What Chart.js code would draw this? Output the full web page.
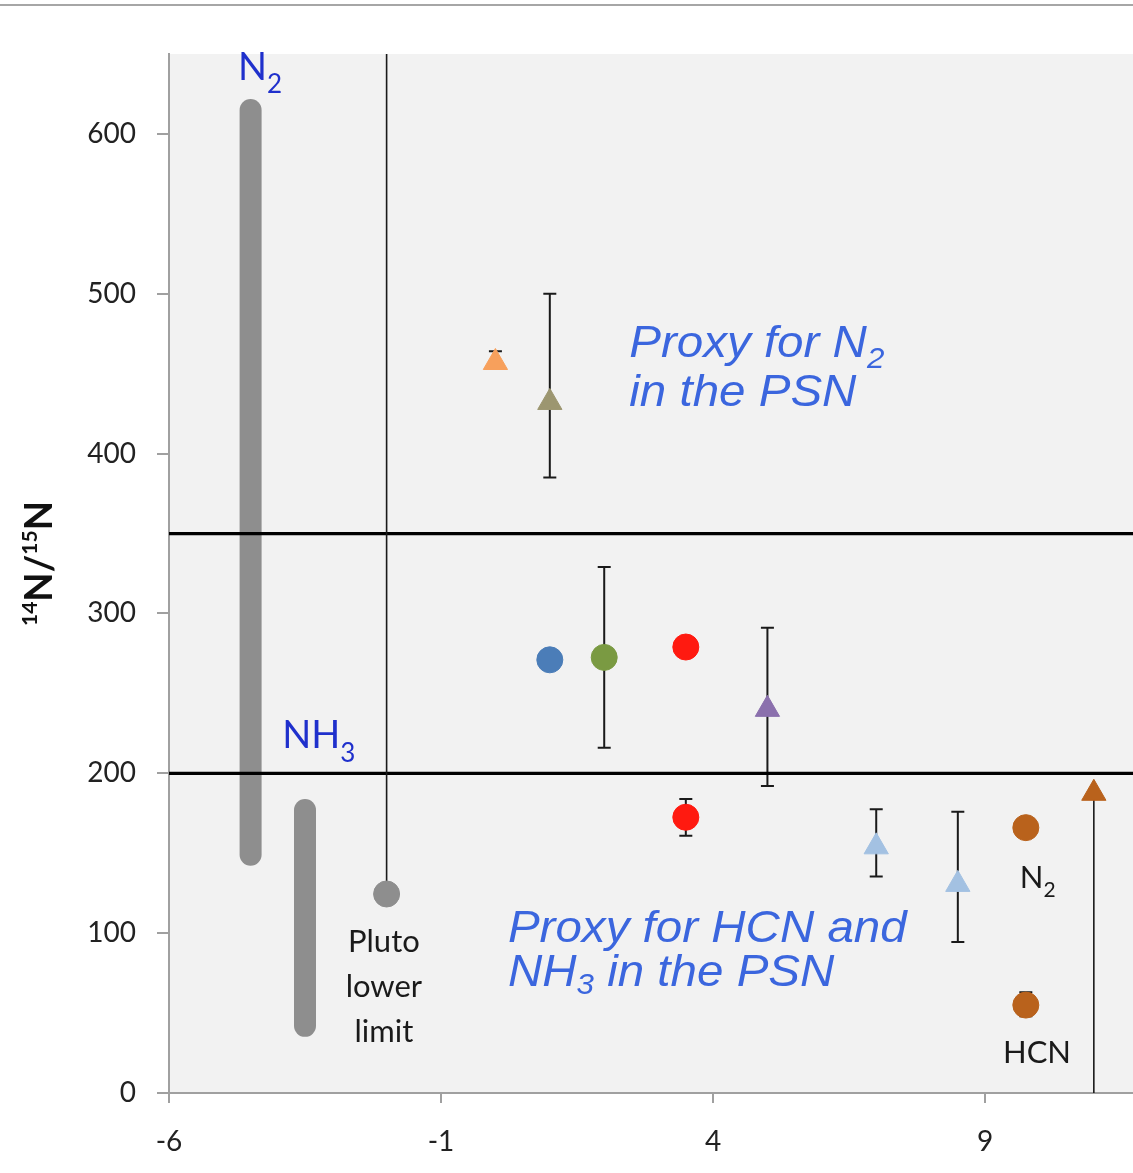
<!DOCTYPE html>
<html><head><meta charset="utf-8">
<script src="https://cdn.jsdelivr.net/npm/chart.js@4"></script>
<style>html,body{margin:0;padding:0;background:#fff;}</style>
</head><body>
<canvas id="c" width="1133" height="1173"></canvas>
<script>
// ---- axis ranges & tick labels ----
const xRange = [-6, 11.72];
const yRange = [0, 650];
const xTicks = [-6, -1, 4, 9];
const yTicks = [0, 100, 200, 300, 400, 500, 600];

// ---- measurements (x, 14N/15N) ----
const pointX    = [0,    1,    1,    2,     3.5,  5,    3.5,   7,     8.5,   9.75, 9.75, 11,    -2];
const pointY    = [457,  432,  271,  272.5, 279,  240,  172.5, 154,   130.5, 166,  55,   187.5, 124.5];
const errLow    = [455,  385,  null, 216,   null, 192,  161,   135.5, 94.5,  null, 48,   null,  null];
const errHigh   = [464,  500,  null, 329,   null, 291,  184,   177.5, 176,   null, 63,   null,  null];

// ---- ranges shown as thick bars ----
const n2RangeX = -4.5;  const n2Range = [149, 615];
const nh3RangeX = -3.5; const nh3Range = [42, 177];
// ---- boundary levels ----
const boundaries = [350, 200];
// ---- limits: Pluto lower limit (index 12) goes up, brown limit (index 11) goes down ----
const plutoIdx = 12, brownLimitIdx = 11;

// ---- styles ----
const pointShape = ['triangle','triangle','circle','circle','circle','triangle','circle','triangle','triangle','circle','circle','triangle','circle'];
const pointColor = ['#f7a05c','#9c9670','#4b7db8','#7a9a42','#ff1a10','#8b70ad','#ff1a10','#a3c1e2','#a3c1e2','#b9621c','#b9621c','#b9621c','#8e8e8e'];
const pointSize  = pointShape.map(s => s === 'triangle' ? 14 : 13);

const BLUE = '#1f30cc', IBLUE = '#3b66de', DARK = '#1a1a1a';
const LATO = 'Lato, "Open Sans", sans-serif';
const ARIAL = '"Liberation Sans", Arial, sans-serif';

const annotations = [
  {x: -4.73, y: 634,  color: BLUE, family: LATO, parts: [['N', 38, 0], ['2', 26, 13]]},
  {x: -3.92, y: 215.6, color: BLUE, family: LATO, parts: [['NH', 38, 0], ['3', 26, 14]]},
  {x: -2.05, y: 88.1, color: DARK, family: LATO, align: 'center', parts: [['Pluto', 31, 0]]},
  {x: -2.05, y: 60,   color: DARK, family: LATO, align: 'center', parts: [['lower', 31, 0]]},
  {x: -2.05, y: 31.9, color: DARK, family: LATO, align: 'center', parts: [['limit', 31, 0]]},
  {x: 2.46, y: 460.6, color: IBLUE, family: ARIAL, italic: true, sx: 1.08, parts: [['Proxy for N', 44, 0], ['2', 29, 11]]},
  {x: 2.46, y: 430,   color: IBLUE, family: ARIAL, italic: true, sx: 1.08, parts: [['in the PSN', 44, 0]]},
  {x: 0.23, y: 94.4,  color: IBLUE, family: ARIAL, italic: true, sx: 1.08, parts: [['Proxy for HCN and', 44, 0]]},
  {x: 0.23, y: 66.9,  color: IBLUE, family: ARIAL, italic: true, sx: 1.08, parts: [['NH', 44, 0], ['3', 29, 8], [' in the PSN', 44, 0]]},
  {x: 9.64, y: 128,   color: DARK, family: LATO, parts: [['N', 31, 0], ['2', 21, 9]]},
  {x: 9.33, y: 18.75, color: DARK, family: LATO, parts: [['HCN', 31, 0]]}
];

function drawParts(ctx, parts, family, italic, bold, sx) {
  let w = 0;
  const font = (sz) => `${italic ? 'italic ' : ''}${bold ? 'bold ' : ''}${sz}px ${family}`;
  parts.forEach(p => { ctx.font = font(p[1]); w += ctx.measureText(p[0]).width; });
  return {w: w * (sx || 1), draw: (x0, y0) => {
    ctx.save(); ctx.translate(x0, y0); ctx.scale(sx || 1, 1);
    let cx = 0;
    parts.forEach(p => { ctx.font = font(p[1]); ctx.fillText(p[0], cx, p[2]); cx += ctx.measureText(p[0]).width; });
    ctx.restore();
  }};
}

const decorPlugin = {
  id: 'decor',
  beforeDraw(chart) {
    const {ctx, chartArea: a} = chart;
    ctx.save();
    ctx.fillStyle = '#f2f2f2';
    ctx.fillRect(a.left, a.top, a.right - a.left, a.bottom - a.top);
    ctx.fillStyle = '#a6a6a6';
    ctx.fillRect(0, 4, chart.width, 2);
    ctx.restore();
  },
  beforeDatasetsDraw(chart) {
    const {ctx} = chart; const xs = chart.scales.x, ys = chart.scales.y;
    ctx.save();
    ctx.strokeStyle = '#1a1a1a'; ctx.lineWidth = 2;
    pointX.forEach((xv, i) => {
      if (errLow[i] == null) return;
      const px = xs.getPixelForValue(xv);
      const lo = ys.getPixelForValue(errLow[i]), hi = ys.getPixelForValue(errHigh[i]);
      ctx.beginPath();
      ctx.moveTo(px, lo); ctx.lineTo(px, hi);
      ctx.moveTo(px - 6.5, lo); ctx.lineTo(px + 6.5, lo);
      ctx.moveTo(px - 6.5, hi); ctx.lineTo(px + 6.5, hi);
      ctx.stroke();
    });
    ctx.restore();
  },
  afterDraw(chart) {
    const {ctx, chartArea: a} = chart; const xs = chart.scales.x, ys = chart.scales.y;
    ctx.save();
    ctx.textBaseline = 'alphabetic';
    annotations.forEach(an => {
      ctx.fillStyle = an.color;
      const r = drawParts(ctx, an.parts, an.family, an.italic, false, an.sx);
      let px = xs.getPixelForValue(an.x);
      if (an.align === 'center') px -= r.w / 2;
      r.draw(px, ys.getPixelForValue(an.y));
    });
    // y-axis title 14N/15N
    ctx.fillStyle = '#111';
    const t = drawParts(ctx, [['14', 21, -15], ['N', 38, 0], ['/', 38, 0], ['15', 21, -15], ['N', 38, 0]], LATO, false, true, 1);
    ctx.translate(52, (a.top + a.bottom) / 2 - 10);
    ctx.rotate(-Math.PI / 2);
    t.draw(-t.w / 2, 0);
    ctx.restore();
  }
};

const lineDs = (data, width, color, order, cap) => ({
  type: 'scatter', data, showLine: true, borderColor: color, borderWidth: width,
  borderCapStyle: cap || 'butt', pointRadius: 0, pointHoverRadius: 0, order, fill: false
});

new Chart(document.getElementById('c'), {
  type: 'scatter',
  data: {
    datasets: [
      {
        data: pointX.map((x, i) => ({x, y: pointY[i]})),
        pointStyle: pointShape, backgroundColor: pointColor, borderColor: pointColor,
        pointRadius: pointSize, pointHoverRadius: pointSize, borderWidth: 1, order: 0
      },
      lineDs([{x: n2RangeX, y: n2Range[0]}, {x: n2RangeX, y: n2Range[1]}], 22, '#8e8e8e', 6, 'round'),
      lineDs([{x: nh3RangeX, y: nh3Range[0]}, {x: nh3RangeX, y: nh3Range[1]}], 22, '#8e8e8e', 6, 'round'),
      ...boundaries.map(b => lineDs([{x: xRange[0], y: b}, {x: xRange[1], y: b}], 3.2, '#000', 4)),
      lineDs([{x: pointX[plutoIdx], y: pointY[plutoIdx]}, {x: pointX[plutoIdx], y: yRange[1]}], 1.6, '#1a1a1a', 3),
      lineDs([{x: pointX[brownLimitIdx], y: yRange[0]}, {x: pointX[brownLimitIdx], y: pointY[brownLimitIdx]}], 1.6, '#1a1a1a', 3)
    ]
  },
  options: {
    responsive: false, animation: false, devicePixelRatio: 1,
    layout: {autoPadding: false, padding: {top: 54, left: 0, right: 0, bottom: 0}},
    plugins: {legend: {display: false}, tooltip: {enabled: false}},
    scales: {
      x: {
        type: 'linear', min: xRange[0], max: xRange[1],
        afterBuildTicks: s => { s.ticks = xTicks.map(v => ({value: v})); },
        afterFit: s => { s.height = 80; s.paddingLeft = 0; s.paddingRight = 0; },
        ticks: {font: {family: 'Lato', size: 28}, color: '#222', padding: 22, autoSkip: false, maxRotation: 0, callback: v => String(v)},
        grid: {drawOnChartArea: false, drawTicks: true, tickLength: 10, color: '#a0a0a0', lineWidth: 2},
        border: {display: true, color: '#a0a0a0', width: 2}
      },
      y: {
        type: 'linear', min: yRange[0], max: yRange[1],
        afterBuildTicks: s => { s.ticks = yTicks.map(v => ({value: v})); },
        afterFit: s => { s.width = 169; s.paddingTop = 0; s.paddingBottom = 0; },
        ticks: {font: {family: 'Lato', size: 28}, color: '#222', padding: 21, callback: v => String(v)},
        grid: {drawOnChartArea: false, drawTicks: true, tickLength: 12, color: '#a0a0a0', lineWidth: 2},
        border: {display: true, color: '#a0a0a0', width: 2}
      }
    }
  },
  plugins: [decorPlugin]
});
</script>
</body></html>
